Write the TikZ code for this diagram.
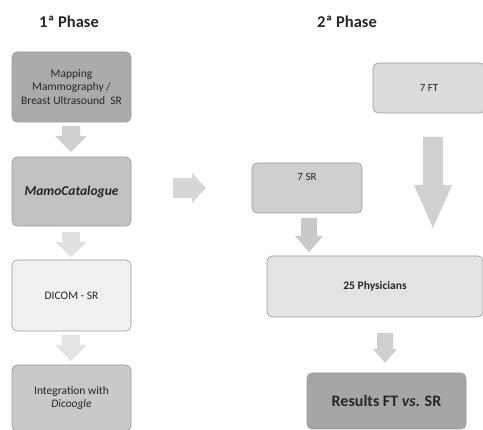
\documentclass[tikz,border=0pt]{standalone}
\usepackage{fontspec}
\setmainfont{Carlito}
\begin{document}
\begin{tikzpicture}[x=1pt,y=-1pt,
  box/.style={draw=black!40, line width=0.6pt, rounded corners=5pt, inner sep=2pt, align=center, font=\fontsize{11.5}{13.5}\selectfont, text=black!85},
  title/.style={font=\bfseries\fontsize{16.5}{19}\selectfont, text=black!85},
  blk/.style={fill=#1, draw=none}]
\useasboundingbox (0,0) rectangle (483,430);
% titles
\node[title] (t1) at (69,22) {1ª Phase};
\node[title] (t2) at (347,22) {2ª Phase};
% phase 1 boxes
\node[box, fill=black!33, minimum width=119pt, minimum height=70pt] (map) at (71.5,87) {Mapping\\Mammography /\\Breast Ultrasound\ \ SR};
\node[box, fill=black!24, minimum width=119pt, minimum height=69pt, font=\bfseries\itshape\fontsize{13.5}{15}\selectfont] (mamo) at (71.5,191.5) {MamoCatalogue};
\node[box, fill=black!6, minimum width=119pt, minimum height=71pt] (dicom) at (71.5,295.5) {DICOM - SR};
\node[box, fill=black!21, minimum width=119pt, minimum height=66pt] (integ) at (71.5,398) {Integration with\\\textit{Dicoogle}};
% phase 2 boxes
\node[box, fill=black!14, minimum width=112pt, minimum height=50pt, font=\fontsize{11}{13}\selectfont] (ft) at (429,88) {7 FT};
\node[box, fill=black!19, minimum width=110pt, minimum height=50pt] (sr) at (307,188) {};
\node[font=\fontsize{11}{13}\selectfont, text=black!85] (srt) at (307,177) {7 SR};
\node[box, fill=black!11, minimum width=216pt, minimum height=61pt, font=\bfseries\fontsize{11.5}{13.5}\selectfont] (phys) at (375,286.5) {25 Physicians};
\node[box, fill=black!35, minimum width=159pt, minimum height=56pt, font=\bfseries\fontsize{16}{18}\selectfont] (res) at (386.5,401) {Results FT \textit{vs}. SR};
% block arrows phase 1
\fill[blk=black!19] (62,126) -- (80,126) -- (80,136) -- (87,136) -- (71,152) -- (55,136) -- (62,136) -- cycle;
\fill[blk=black!12] (62,232) -- (80,232) -- (80,242) -- (87,242) -- (71,257) -- (55,242) -- (62,242) -- cycle;
\fill[blk=black!11] (62,335) -- (80,335) -- (80,345) -- (87,345) -- (71,361) -- (55,345) -- (62,345) -- cycle;
% right arrow
\fill[blk=black!16] (173,178) -- (192,178) -- (192,173) -- (206,188) -- (192,203) -- (192,198) -- (173,198) -- cycle;
% arrow SR -> physicians
\fill[blk=black!21] (301,218) -- (317,218) -- (317,236) -- (323,236) -- (309,252) -- (295,236) -- (301,236) -- cycle;
% big arrow FT -> physicians
\fill[blk=black!18] (423,137) -- (443,137) -- (443,185) -- (452,185) -- (433,228) -- (414,185) -- (423,185) -- cycle;
% arrow physicians -> results
\fill[blk=black!19] (377,333) -- (393,333) -- (393,349) -- (397,349) -- (385,363) -- (373,349) -- (377,349) -- cycle;
\end{tikzpicture}
\end{document}
